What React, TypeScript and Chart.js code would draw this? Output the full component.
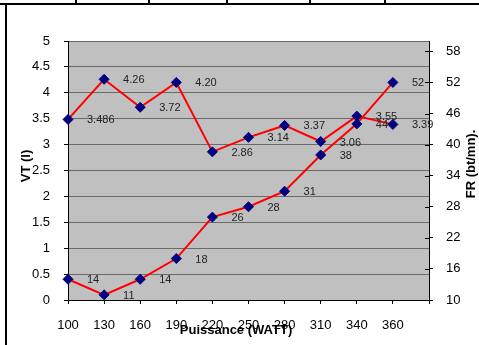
import React, { useEffect, useRef } from "react";
import { Chart, registerables } from "chart.js";

Chart.register(...registerables);

const categories = ["100", "130", "160", "190", "220", "250", "280", "310", "340", "360", ""];
const vtValues = [3.486, 4.26, 3.72, 4.2, 2.86, 3.14, 3.37, 3.06, 3.55, 3.39, null];
const vtLabels = ["3.486", "4.26", "3.72", "4.20", "2.86", "3.14", "3.37", "3.06", "3.55", "3.39"];
const frValues = [14, 11, 14, 18, 26, 28, 31, 38, 44, 52, null];
const frLabels = ["14", "11", "14", "18", "26", "28", "31", "38", "44", "52"];
const rightTicks = [10, 16, 22, 28, 34, 40, 46, 52, 58];

const FONT = 'Arial, "Liberation Sans", sans-serif';

const decorPlugin = {
  id: "decor",
  beforeDraw(chart: any) {
    const { ctx, chartArea } = chart;
    ctx.save();
    ctx.fillStyle = "#c0c0c0";
    ctx.fillRect(chartArea.left, chartArea.top, chartArea.right - chartArea.left, chartArea.bottom - chartArea.top);
    ctx.restore();
  },
  afterDatasetsDraw(chart: any) {
    const { ctx } = chart;
    ctx.save();
    ctx.font = "11px " + FONT;
    ctx.fillStyle = "#222";
    ctx.textAlign = "left";
    ctx.textBaseline = "middle";
    const sets = [vtLabels, frLabels];
    sets.forEach((labels, di) => {
      const meta = chart.getDatasetMeta(di);
      meta.data.forEach((pt: any, i: number) => {
        if (labels[i] === undefined || pt.skip) return;
        ctx.fillText(labels[i], pt.x + 19, pt.y + 1);
      });
    });
    ctx.restore();
  },
  afterDraw(chart: any) {
    const { ctx, chartArea } = chart;
    ctx.save();
    const y1 = chart.scales.y1;
    ctx.strokeStyle = "#000";
    ctx.lineWidth = 1;
    rightTicks.forEach((v) => {
      const y = Math.round(y1.getPixelForValue(v)) + 0.5;
      ctx.beginPath();
      ctx.moveTo(chartArea.right - 4, y);
      ctx.lineTo(chartArea.right, y);
      ctx.stroke();
    });
    ctx.fillStyle = "#000";
    ctx.font = "bold 13px " + FONT;
    ctx.textAlign = "center";
    ctx.textBaseline = "middle";
    ctx.fillText("Puissance (WATT)", 236, 330);
    ctx.save();
    ctx.translate(26, 166);
    ctx.rotate(-Math.PI / 2);
    ctx.fillText("VT (l)", 0, 0);
    ctx.restore();
    ctx.save();
    ctx.translate(471, 164);
    ctx.rotate(-Math.PI / 2);
    ctx.fillText("FR (bt/mn).", 0, 0);
    ctx.restore();
    ctx.fillStyle = "#000";
    ctx.fillRect(0, 3, 479, 2);
    ctx.fillRect(5, 3, 2, 342);
    [76, 149, 227, 310, 385].forEach((x) => ctx.fillRect(x - 1, 0, 2, 4));
    ctx.restore();
  },
};

export default function App() {
  const ref = useRef<HTMLCanvasElement>(null);
  useEffect(() => {
    if (!ref.current) return;
    Chart.defaults.font.family = FONT;
    const chart = new Chart(ref.current, {
      type: "line",
      data: {
        labels: categories,
        datasets: [
          {
            label: "VT (l)",
            data: vtValues,
            yAxisID: "y",
            borderColor: "#ff0000",
            borderWidth: 2,
            pointStyle: "rectRot",
            pointRadius: 5,
            pointBackgroundColor: "#000080",
            pointBorderColor: "#000080",
            pointBorderWidth: 1,
            tension: 0,
          },
          {
            label: "FR (bt/mn).",
            data: frValues,
            yAxisID: "y1",
            borderColor: "#ff0000",
            borderWidth: 2,
            pointStyle: "rectRot",
            pointRadius: 5,
            pointBackgroundColor: "#000080",
            pointBorderColor: "#000080",
            pointBorderWidth: 1,
            tension: 0,
          },
        ],
      },
      options: {
        responsive: false,
        animation: false,
        layout: { padding: { top: 41, left: 0, right: 0, bottom: 0 } },
        plugins: { legend: { display: false }, tooltip: { enabled: false } },
        scales: {
          x: {
            type: "category",
            offset: false,
            grid: { drawOnChartArea: false, drawTicks: true, tickLength: 4, color: "#000" },
            border: { display: true, color: "#000", width: 1 },
            ticks: { font: { size: 13, family: FONT }, color: "#000", padding: 14, maxRotation: 0, autoSkip: false },
            afterFit(scale: any) {
              scale.height = 45;
            },
          },
          y: {
            position: "left",
            min: 0,
            max: 5,
            ticks: {
              stepSize: 0.5,
              font: { size: 13, family: FONT },
              color: "#000",
              padding: 14,
              callback: (v: any) => String(Math.round(Number(v) * 10) / 10),
            },
            grid: { color: "#6a6a6a", drawTicks: true, tickLength: 4, tickColor: "#000", lineWidth: 1 },
            border: { display: true, color: "#000", width: 1 },
            afterFit(scale: any) {
              scale.width = 68;
            },
          },
          y1: {
            position: "right",
            min: 10,
            max: 60,
            afterBuildTicks(scale: any) {
              scale.ticks = rightTicks.map((v) => ({ value: v }));
            },
            ticks: { font: { size: 13, family: FONT }, color: "#000", padding: 13 },
            grid: { drawOnChartArea: false, drawTicks: true, tickLength: 4, color: "#000" },
            border: { display: true, color: "#000", width: 1 },
            afterFit(scale: any) {
              scale.width = 50;
            },
          },
        },
      },
      plugins: [decorPlugin],
    });
    return () => chart.destroy();
  }, []);
  return (
    <div style={{ position: "absolute", left: 0, top: 0, width: 479, height: 345, background: "#fff" }}>
      <canvas ref={ref} width={479} height={345} style={{ display: "block" }} />
    </div>
  );
}
